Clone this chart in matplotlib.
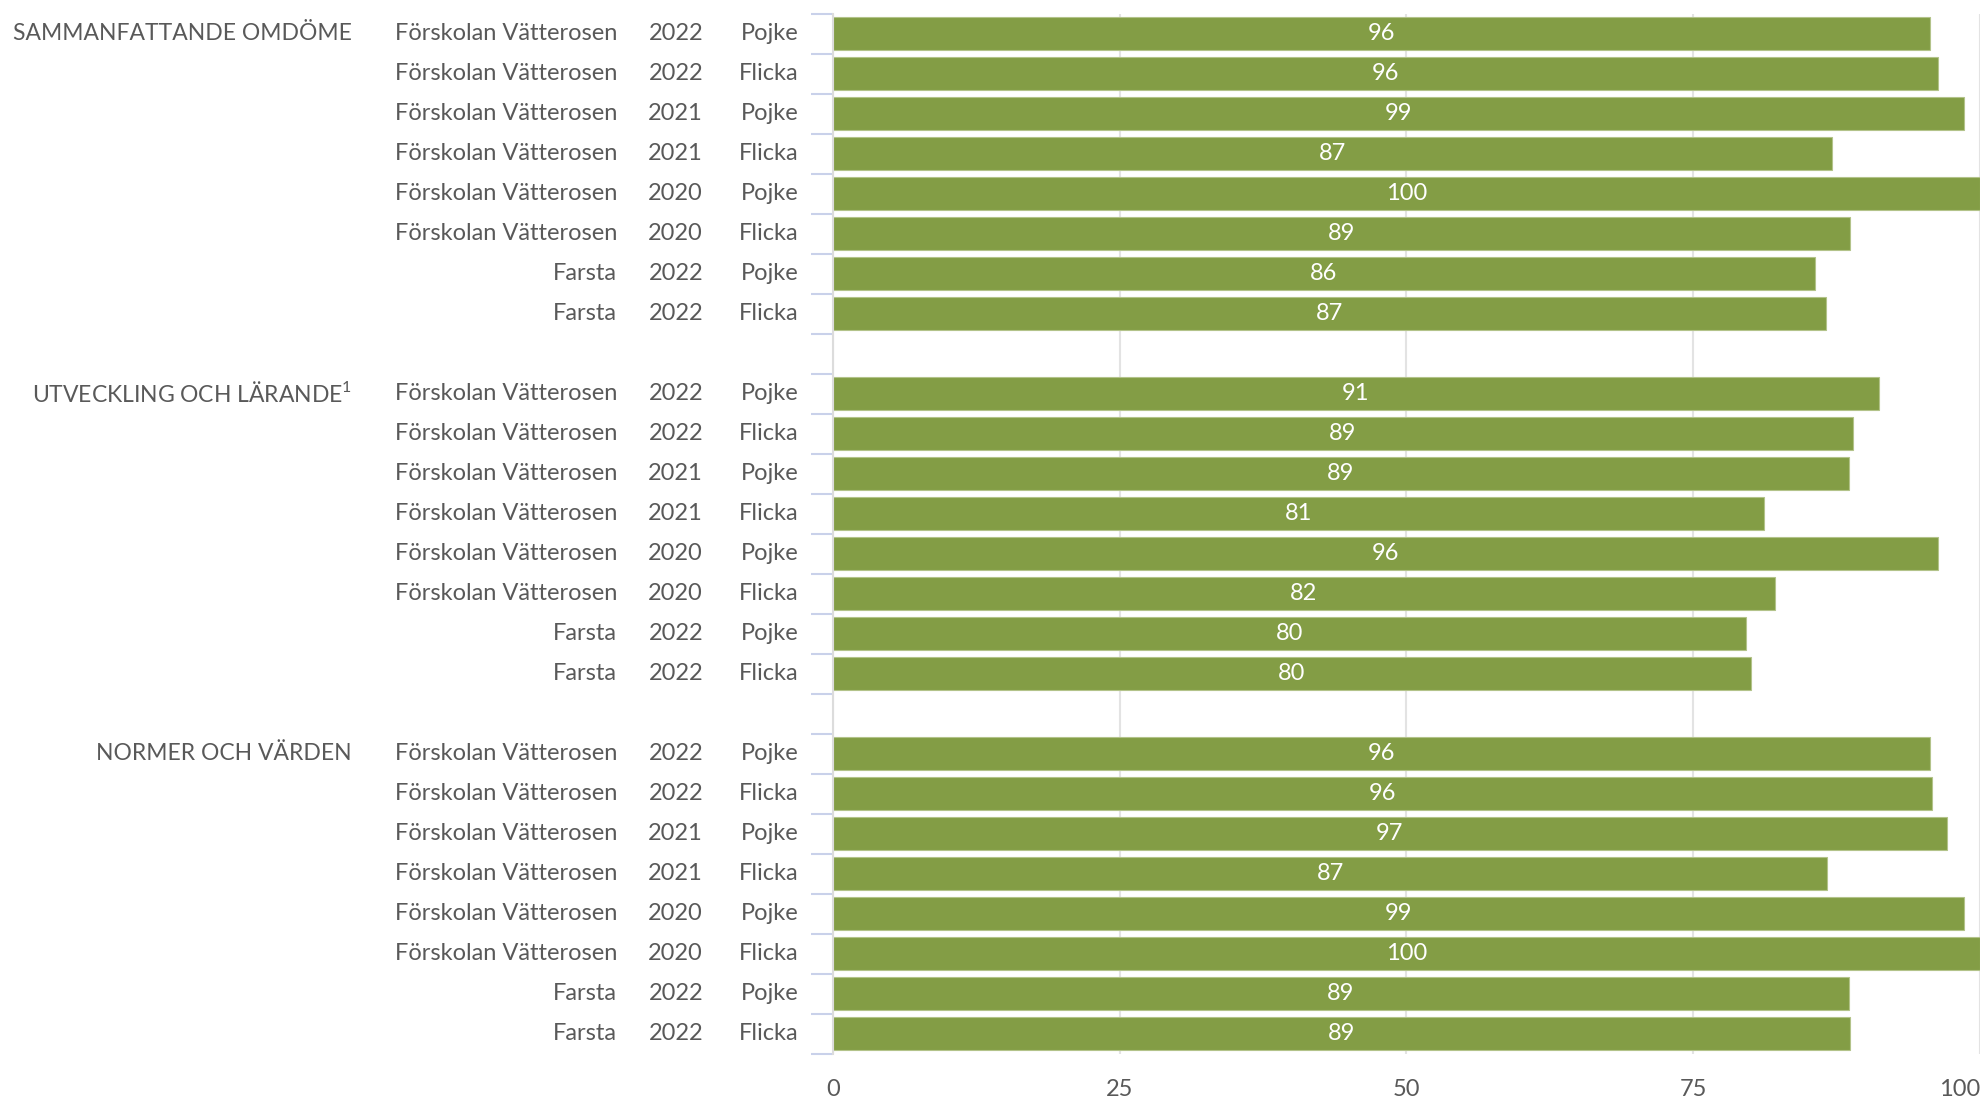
import matplotlib.pyplot as plt
import numpy as np

plt.rcParams['font.family'] = ['Lato', 'DejaVu Sans']
plt.rcParams['mathtext.fontset'] = 'custom'
plt.rcParams['mathtext.rm'] = 'Lato'

# data
groups = ['SAMMANFATTANDE OMDÖME', 'UTVECKLING OCH LÄRANDE$^{1}$', 'NORMER OCH VÄRDEN']
units = ['Förskolan Vätterosen'] * 6 + ['Farsta'] * 2
years = ['2022', '2022', '2021', '2021', '2020', '2020', '2022', '2022']
genders = ['Pojke', 'Flicka', 'Pojke', 'Flicka', 'Pojke', 'Flicka', 'Pojke', 'Flicka']
sammanfattande = [95.6, 96.3, 98.6, 87.1, 100, 88.7, 85.6, 86.6]
utveckling = [91.2, 88.9, 88.6, 81.2, 96.3, 82.1, 79.6, 80.0]
normer = [95.6, 95.8, 97.1, 86.7, 98.6, 100, 88.6, 88.7]
all_values = [sammanfattande, utveckling, normer]

bar_color = '#839d45'
text_color = '#595959'
fs = 17

W, H = 1983, 1098
fig = plt.figure(figsize=(W / 100, H / 100), dpi=100)
ax = fig.add_axes([832.7 / W, 1 - 1053.7 / H, (1980 - 832.7) / W, (1053.7 - 13.7) / H])

col_x = [617 / W, 703 / W, 799 / W]

for g, vals in enumerate(all_values):
    pos = np.arange(len(vals)) + g * 9
    ax.barh(pos, vals, height=0.82, color=bar_color, edgecolor='#b3c38a', linewidth=0.8, zorder=2)
    for p, v in zip(pos, vals):
        ax.text(v / 2, p, f'{v:.0f}', color='white', ha='center', va='center', fontsize=fs, zorder=3)
    for p, u, y, s in zip(pos, units, years, genders):
        for cx, t in zip(col_x, [u, y, s]):
            ax.annotate(t, xy=(cx, p), xycoords=('figure fraction', 'data'),
                        ha='right', va='center', fontsize=fs, color=text_color,
                        annotation_clip=False)
    ax.annotate(groups[g], xy=(351.6 / W, pos[0]), xycoords=('figure fraction', 'data'),
                ha='right', va='center', fontsize=16.5, color=text_color,
                annotation_clip=False)

ax.set_xlim(0, 100)
ax.set_ylim(25.5, -0.5)
ax.set_xticks([0, 25, 50, 75, 100])
ax.tick_params(axis='x', length=0, pad=18, labelsize=fs, labelcolor=text_color)
ax.get_xticklabels()[-1].set_ha('right')
ax.set_yticks([])
ax.set_yticks(np.arange(-0.5, 26, 1), minor=True)
ax.tick_params(axis='y', which='minor', length=16, width=1.5, color='#c9d1ea', labelleft=False)

ax.grid(axis='x', color='#e3e3e3', linewidth=1.5, zorder=0)
ax.set_axisbelow(True)
for side in ['top', 'right', 'bottom']:
    ax.spines[side].set_visible(False)
ax.spines['left'].set_color('#dcdcdc')
ax.spines['left'].set_linewidth(1.5)

fig.savefig('out.png', dpi=100)
